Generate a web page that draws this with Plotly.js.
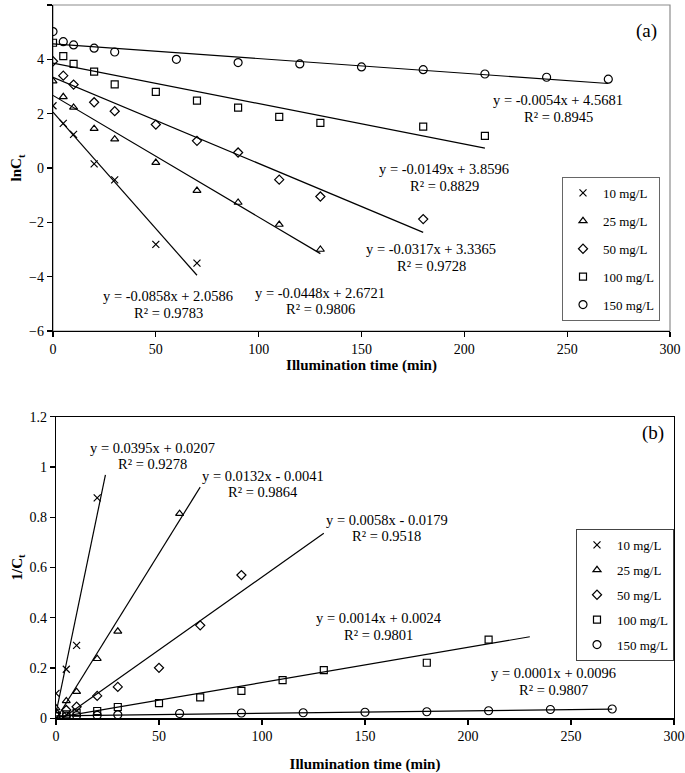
<!DOCTYPE html>
<html>
<head>
<meta charset="utf-8">
<script src="https://cdn.plot.ly/plotly-3.0.1.min.js"></script>
<style>html,body{margin:0;padding:0;background:#fff;}#chart{width:685px;height:773px;}</style>
</head>
<body>
<div id="chart"></div>
<script>
// ---------- DATA ----------
const seriesNames = ["10 mg/L", "25 mg/L", "50 mg/L", "100 mg/L", "150 mg/L"];

// (a) ln Ct vs time
const a_t10 = [0, 5, 10, 20, 30, 50, 70];
const a_y10 = [2.29, 1.64, 1.24, 0.15, -0.44, -2.81, -3.50];
const a_t25 = [0, 5, 10, 20, 30, 50, 70, 90, 110, 130];
const a_y25 = [3.20, 2.62, 2.23, 1.45, 1.06, 0.20, -0.83, -1.27, -2.08, -3.00];
const a_t50 = [0, 5, 10, 20, 30, 50, 70, 90, 110, 130, 180];
const a_y50 = [3.93, 3.40, 3.07, 2.42, 2.09, 1.60, 1.00, 0.57, -0.43, -1.05, -1.88];
const a_t100 = [0, 5, 10, 20, 30, 50, 70, 90, 110, 130, 180, 210];
const a_y100 = [4.61, 4.12, 3.83, 3.55, 3.08, 2.80, 2.48, 2.22, 1.88, 1.66, 1.52, 1.18];
const a_t150 = [0, 5, 10, 20, 30, 60, 90, 120, 150, 180, 210, 240, 270];
const a_y150 = [5.02, 4.65, 4.53, 4.41, 4.27, 4.00, 3.88, 3.83, 3.72, 3.62, 3.46, 3.34, 3.27];
// (a) trendlines: slope, intercept, x-extent
const a_slope = [-0.0858, -0.0448, -0.0317, -0.0149, -0.0054];
const a_icpt = [2.0586, 2.6721, 3.3365, 3.8596, 4.5681];
const a_xend = [70, 130, 180, 210, 270];
const a_eq = ["y = -0.0858x + 2.0586", "y = -0.0448x + 2.6721", "y = -0.0317x + 3.3365", "y = -0.0149x + 3.8596", "y = -0.0054x + 4.5681"];
const a_r2 = ["R² = 0.9783", "R² = 0.9806", "R² = 0.9728", "R² = 0.8829", "R² = 0.8945"];

// (b) 1/Ct vs time
const b_t10 = [0, 5, 10, 20];
const b_y10 = [0.099, 0.195, 0.29, 0.877];
const b_t25 = [0, 5, 10, 20, 30, 60];
const b_y25 = [0.041, 0.069, 0.106, 0.237, 0.346, 0.814];
const b_t50 = [0, 5, 10, 20, 30, 50, 70, 90];
const b_y50 = [0.020, 0.033, 0.046, 0.089, 0.125, 0.201, 0.370, 0.570];
const b_t100 = [0, 5, 10, 20, 30, 50, 70, 90, 110, 130, 180, 210];
const b_y100 = [0.010, 0.016, 0.022, 0.029, 0.045, 0.060, 0.083, 0.109, 0.152, 0.192, 0.221, 0.313];
const b_t150 = [0, 5, 10, 20, 30, 60, 90, 120, 150, 180, 210, 240, 270];
const b_y150 = [0.007, 0.009, 0.011, 0.012, 0.014, 0.019, 0.021, 0.022, 0.024, 0.026, 0.030, 0.035, 0.037];
const b_slope = [0.0395, 0.0132, 0.0058, 0.0014, 0.0001];
const b_icpt = [0.0207, -0.0041, -0.0179, 0.0024, 0.0096];
const b_xend = [24, 70, 130, 230, 270];
const b_eq = ["y = 0.0395x + 0.0207", "y = 0.0132x - 0.0041", "y = 0.0058x - 0.0179", "y = 0.0014x + 0.0024", "y = 0.0001x + 0.0096"];
const b_r2 = ["R² = 0.9278", "R² = 0.9864", "R² = 0.9518", "R² = 0.9801", "R² = 0.9807"];

const xTicks = [0, 50, 100, 150, 200, 250, 300];
const aYTicks = [-6, -4, -2, 0, 2, 4, 6];
const bYTicks = [0, 0.2, 0.4, 0.6, 0.8, 1, 1.2];
const bYTickText = ["0", "0.2", "0.4", "0.6", "0.8", "1", "1.2"];

// ---------- STYLE ----------
const W = 685, H = 773;
const FONT = "Liberation Serif, Times New Roman, serif";
const symbols = ["x-thin-open", "triangle-up-open", "diamond-open", "square-open", "circle-open"];
const msizes = [7, 7, 7, 7, 8];
const px = v => v / W;
const py = v => 1 - v / H;

const aT = [a_t10, a_t25, a_t50, a_t100, a_t150];
const aY = [a_y10, a_y25, a_y50, a_y100, a_y150];
const bT = [b_t10, b_t25, b_t50, b_t100, b_t150];
const bY = [b_y10, b_y25, b_y50, b_y100, b_y150];

const traces = [];
for (let i = 0; i < 5; i++) {
  traces.push({
    x: [0, a_xend[i]], y: [a_icpt[i], a_icpt[i] + a_slope[i] * a_xend[i]],
    mode: "lines", line: {color: "#000", width: 1.2}, showlegend: false,
    xaxis: "x", yaxis: "y", hoverinfo: "skip"
  });
  traces.push({
    x: [0, b_xend[i]], y: [b_icpt[i], b_icpt[i] + b_slope[i] * b_xend[i]],
    mode: "lines", line: {color: "#000", width: 1.2}, showlegend: false,
    xaxis: "x2", yaxis: "y2", hoverinfo: "skip"
  });
}
for (let i = 0; i < 5; i++) {
  traces.push({
    x: aT[i], y: aY[i], name: seriesNames[i], mode: "markers",
    marker: {symbol: symbols[i], size: msizes[i], color: "#000", line: {color: "#000", width: 1.2}},
    xaxis: "x", yaxis: "y", legend: "legend", legendgroup: "a" + i
  });
  traces.push({
    x: bT[i], y: bY[i], name: seriesNames[i], mode: "markers",
    marker: {symbol: symbols[i], size: msizes[i], color: "#000", line: {color: "#000", width: 1.2}},
    xaxis: "x2", yaxis: "y2", legend: "legend2", legendgroup: "b" + i
  });
}

// annotation pixel positions (centre x, line1 y, line2 y)
const aAnnPos = [[168, 296, 313], [320, 293, 309], [431, 249, 266], [444, 169, 186], [558, 100, 117]];
const bAnnPos = [[152, 448, 464], [263, 476, 492], [387, 520, 536], [379, 618, 635], [553, 673, 690]];
const annotations = [];
const annFont = {family: FONT, size: 14.5, color: "#000"};
for (let i = 0; i < 5; i++) {
  annotations.push({xref: "paper", yref: "paper", x: px(aAnnPos[i][0]), y: py(aAnnPos[i][1]), text: a_eq[i], showarrow: false, xanchor: "center", yanchor: "middle", font: annFont});
  annotations.push({xref: "paper", yref: "paper", x: px(aAnnPos[i][0]), y: py(aAnnPos[i][2]), text: a_r2[i], showarrow: false, xanchor: "center", yanchor: "middle", font: annFont});
  annotations.push({xref: "paper", yref: "paper", x: px(bAnnPos[i][0]), y: py(bAnnPos[i][1]), text: b_eq[i], showarrow: false, xanchor: "center", yanchor: "middle", font: annFont});
  annotations.push({xref: "paper", yref: "paper", x: px(bAnnPos[i][0]), y: py(bAnnPos[i][2]), text: b_r2[i], showarrow: false, xanchor: "center", yanchor: "middle", font: annFont});
}
annotations.push({xref: "paper", yref: "paper", x: px(646), y: py(31), text: "(a)", showarrow: false, xanchor: "center", yanchor: "middle", font: {family: FONT, size: 19, color: "#000"}});
annotations.push({xref: "paper", yref: "paper", x: px(653), y: py(433), text: "(b)", showarrow: false, xanchor: "center", yanchor: "middle", font: {family: FONT, size: 19, color: "#000"}});

const tickFont = {family: FONT, size: 14, color: "#000"};
const titleFont = {family: FONT, size: 15, color: "#000"};
const axisBase = {
  showgrid: false, zeroline: false, showline: true, linecolor: "#000", linewidth: 1.2,
  ticks: "outside", ticklen: 5, tickcolor: "#000", tickwidth: 1.2, tickfont: tickFont, automargin: false
};

const layout = {
  width: W, height: H,
  margin: {l: 0, r: 0, t: 0, b: 0},
  paper_bgcolor: "#fff", plot_bgcolor: "#fff",
  font: {family: FONT, color: "#000"},
  xaxis: Object.assign({}, axisBase, {
    domain: [px(53), px(670)], range: [0, 300], tickvals: xTicks, anchor: "y",
    title: {text: "<b>Illumination time (min)</b>", font: titleFont, standoff: 0}
  }),
  yaxis: Object.assign({}, axisBase, {
    domain: [py(331), py(5)], range: [-6, 6], tickvals: aYTicks, anchor: "x",
    title: {text: "<b>lnC<sub>t</sub></b>", font: titleFont, standoff: 3}
  }),
  xaxis2: Object.assign({}, axisBase, {
    domain: [px(56), px(674)], range: [0, 300], tickvals: xTicks, anchor: "y2",
    mirror: true,
    title: {text: "<b>Illumination time (min)</b>", font: titleFont, standoff: 18}
  }),
  yaxis2: Object.assign({}, axisBase, {
    domain: [py(718.3), py(416.7)], range: [0, 1.2], tickvals: bYTicks, ticktext: bYTickText, anchor: "x2",
    mirror: true,
    title: {text: "<b>1/C<sub>t</sub></b>", font: titleFont, standoff: 3}
  }),
  shapes: [{
    type: "rect", xref: "x domain", yref: "y domain", x0: 0, x1: 1, y0: 0, y1: 1,
    line: {color: "#8c8c8c", width: 1.2}, layer: "below"
  }],
  legend: {
    x: px(562), y: py(177), xanchor: "left", yanchor: "top",
    bordercolor: "#666", borderwidth: 1, bgcolor: "#fff",
    font: {family: FONT, size: 13, color: "#000"}, traceorder: "grouped", tracegroupgap: 8,
    itemwidth: 30
  },
  legend2: {
    x: px(576), y: py(529), xanchor: "left", yanchor: "top",
    bordercolor: "#444", borderwidth: 1, bgcolor: "#fff",
    font: {family: FONT, size: 13, color: "#000"}, traceorder: "grouped", tracegroupgap: 5,
    itemwidth: 30
  },
  annotations: annotations,
  showlegend: true
};

Plotly.newPlot("chart", traces, layout, {displayModeBar: false, staticPlot: true});
</script>
</body>
</html>
